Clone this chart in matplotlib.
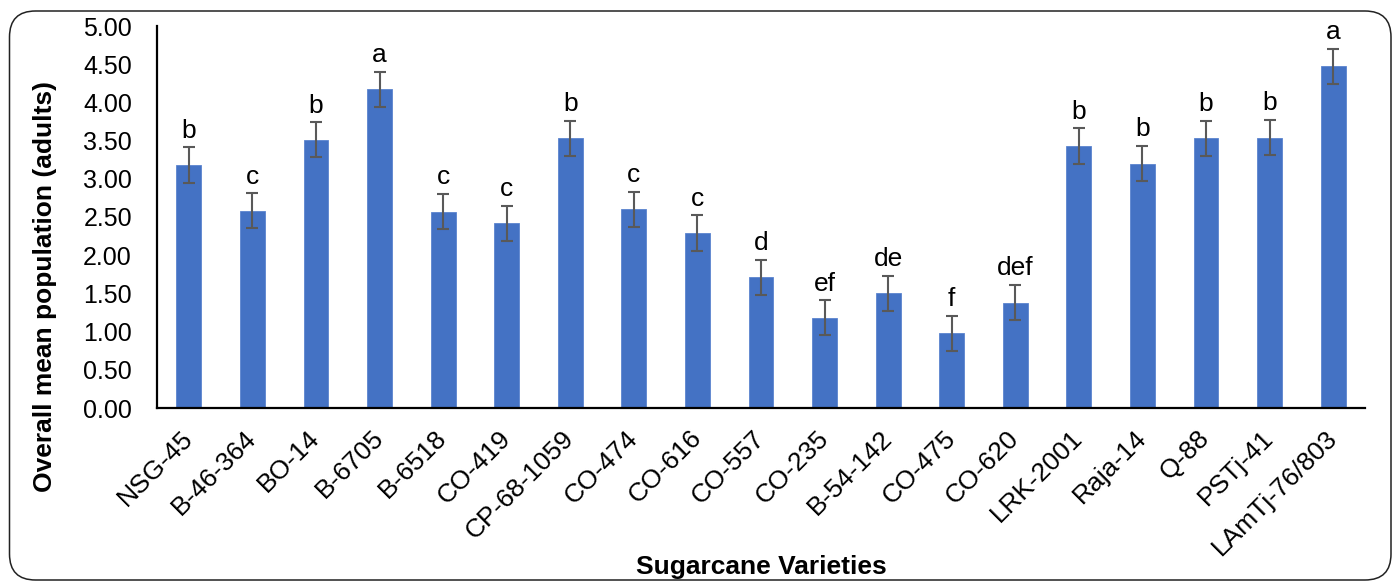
import matplotlib
matplotlib.use("Agg")
import matplotlib.pyplot as plt
from matplotlib.patches import FancyBboxPatch

varieties = ["NSG-45", "B-46-364", "BO-14", "B-6705", "B-6518", "CO-419",
             "CP-68-1059", "CO-474", "CO-616", "CO-557", "CO-235", "B-54-142",
             "CO-475", "CO-620", "LRK-2001", "Raja-14", "Q-88", "PSTj-41",
             "LAmTj-76/803"]
mean_pop = [3.18, 2.58, 3.51, 4.17, 2.57, 2.42, 3.53, 2.60, 2.29, 1.71,
            1.18, 1.50, 0.98, 1.38, 3.43, 3.20, 3.53, 3.54, 4.47]
std_err = [0.23] * 19
groups = ["b", "c", "b", "a", "c", "c", "b", "c", "c", "d",
          "ef", "de", "f", "def", "b", "b", "b", "b", "a"]
y_ticks = [0.0, 0.5, 1.0, 1.5, 2.0, 2.5, 3.0, 3.5, 4.0, 4.5, 5.0]

plt.rcParams["font.family"] = ["Liberation Sans", "DejaVu Sans"]

W, H = 1393, 582
fig = plt.figure(figsize=(W / 100, H / 100), dpi=100)
ax = fig.add_axes([157 / W, 1 - 408 / H, (1365 - 157) / W, (408 - 26) / H])

x = list(range(len(varieties)))
ax.bar(x, mean_pop, width=0.39, color="#4472C4", edgecolor="#5B84CF",
       linewidth=0.6, zorder=2)
ax.errorbar(x, mean_pop, yerr=std_err, fmt="none", ecolor="#595959",
            elinewidth=1.5, capsize=4.3, capthick=1.5, zorder=3)

for xi, v, e, g in zip(x, mean_pop, std_err, groups):
    ax.annotate(g, (xi, v + e), xytext=(0, 7), textcoords="offset points",
                ha="center", va="baseline", fontsize=19, color="black")

ax.set_xlim(-0.5, len(varieties) - 0.5)
ax.set_ylim(0, 5)
ax.set_yticks(y_ticks)
ax.set_yticklabels([f"{t:.2f}" for t in y_ticks])
ax.set_xticks(x)
ax.set_xticklabels(varieties, rotation=45, ha="right", va="center",
                   rotation_mode="anchor")
ax.tick_params(axis="y", length=0, pad=18, labelsize=18)
ax.tick_params(axis="x", length=0, pad=19, labelsize=19)

for side in ("top", "right"):
    ax.spines[side].set_visible(False)
for side in ("left", "bottom"):
    ax.spines[side].set_linewidth(1.6)
    ax.spines[side].set_color("black")

fig.text(761 / W, 1 - 567 / H, "Sugarcane Varieties", ha="center",
         va="center", fontsize=19, fontweight="bold")
fig.text(45 / W, 1 - 287 / H, "Overall mean population (adults)",
         ha="center", va="center", rotation=90, fontsize=19,
         fontweight="bold")

frame = FancyBboxPatch((9.5, 2.0), 1381.5, 569.0,
                       boxstyle="round,pad=0,rounding_size=26",
                       transform=None, facecolor="none",
                       edgecolor="#222222", linewidth=1.1)
fig.patches.append(frame)

fig.savefig("out.png", dpi=100)
